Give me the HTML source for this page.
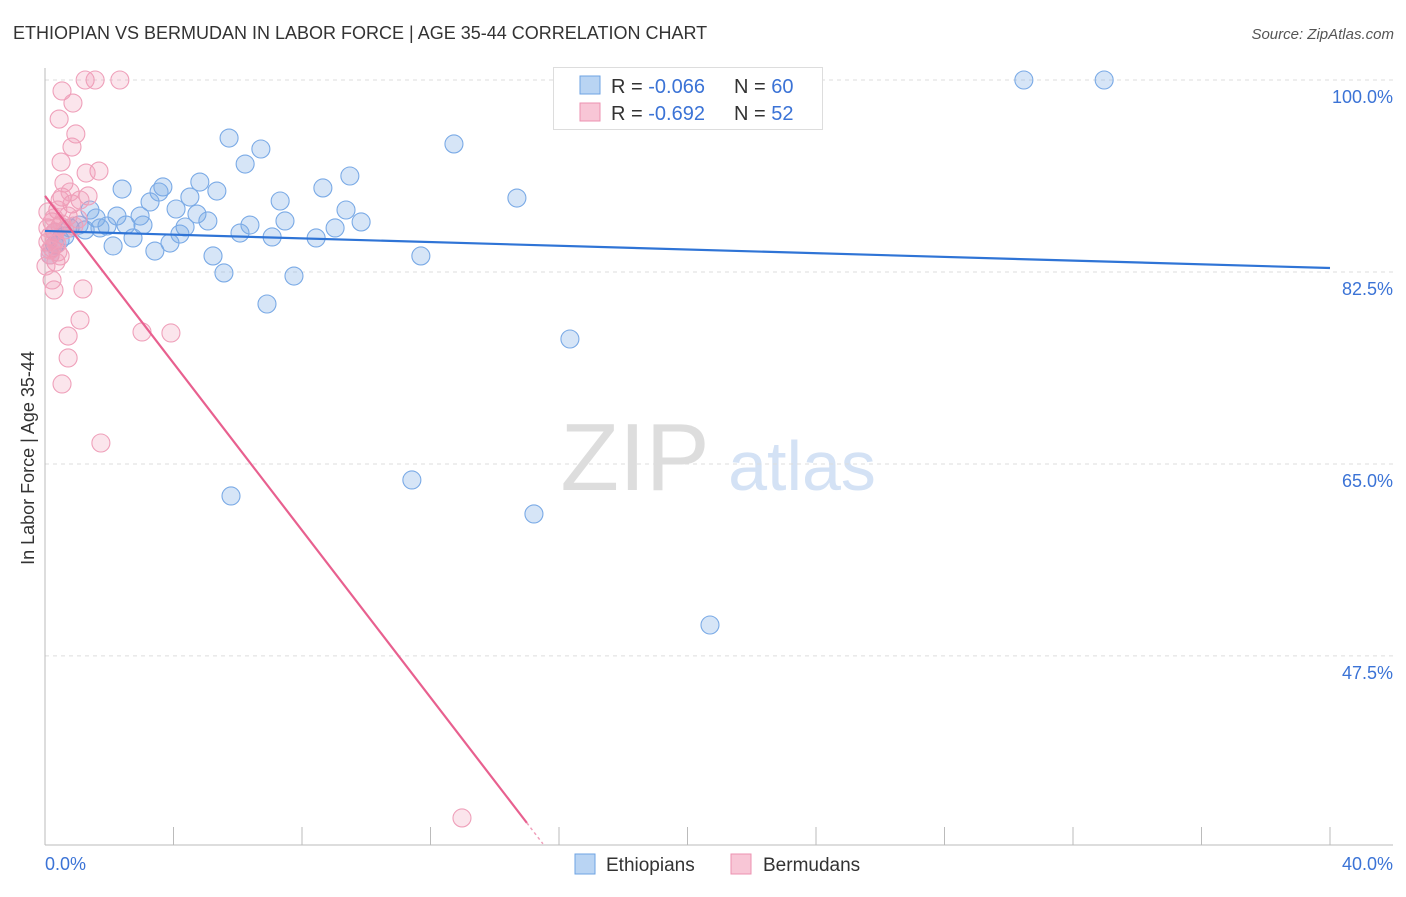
<!DOCTYPE html>
<html><head><meta charset="utf-8"><style>
body{margin:0;background:#fff;font-family:"Liberation Sans",sans-serif;}
svg text{font-family:"Liberation Sans",sans-serif;}
</style></head><body>
<svg id="chart" width="1406" height="892" xmlns="http://www.w3.org/2000/svg">
<text x="13" y="39" font-size="18" fill="#333">ETHIOPIAN VS BERMUDAN IN LABOR FORCE | AGE 35-44 CORRELATION CHART</text>
<text x="1394" y="39" font-size="15" fill="#555" font-style="italic" text-anchor="end">Source: ZipAtlas.com</text>
<g>
<text x="635" y="490" font-size="96" fill="#ddd" font-family="Liberation Serif" text-anchor="middle">ZIP</text>
<text x="802" y="490" font-size="70" fill="#d4e2f5" text-anchor="middle">atlas</text>
</g>
<g id="grid"></g>
<g id="axes"></g>
<g id="marks"></g>
<g>
<rect x="553.5" y="67.5" width="269" height="62" fill="#fff" stroke="#ddd"/>
<rect x="580" y="76" width="20" height="18" fill="#b9d4f3" stroke="#6ea3e3"/>
<rect x="580" y="103" width="20" height="18" fill="#f8c6d6" stroke="#ec92b0"/>
<text x="611" y="93" font-size="20" fill="#333">R = <tspan fill="#3b73d6">-0.066</tspan><tspan x="734">N = </tspan><tspan fill="#3b73d6">60</tspan></text>
<text x="611" y="120" font-size="20" fill="#333">R = <tspan fill="#3b73d6"> -0.692</tspan><tspan x="734">N = </tspan><tspan fill="#3b73d6"> 52</tspan></text>
</g>
<g>
<rect x="575" y="854" width="20" height="20" fill="#b9d4f3" stroke="#6ea3e3"/>
<text x="606" y="871" font-size="19" fill="#333">Ethiopians</text>
<rect x="731" y="854" width="20" height="20" fill="#f8c6d6" stroke="#ec92b0"/>
<text x="763" y="871" font-size="19" fill="#333">Bermudans</text>
</g>
<text transform="translate(34,458) rotate(-90)" font-size="18" fill="#333" text-anchor="middle">In Labor Force | Age 35-44</text>
</svg>
<script>
const yTicks=[100,82.5,65,47.5];
const yTickLabels=["100.0%","82.5%","65.0%","47.5%"];
const xEndLabels=["0.0%","40.0%"];
const blueX=[30.47,32.97,12.73,5.73,6.72,6.23,9.49,8.65,4.82,3.67,3.55,2.40,5.35,4.51,3.27,7.32,14.69,4.08,1.40,9.37,4.73,2.96,2.24,1.59,5.07,9.84,7.47,6.38,2.52,3.05,1.93,1.06,4.36,4.20,6.07,9.03,2.74,7.07,8.44,0.62,2.12,0.47,3.89,3.42,5.23,11.70,5.57,7.75,6.91,16.34,11.42,5.79,15.22,20.70,0.31,0.16,0.78,1.25,1.71,0.31];
const blueY=[100,100,94.17,94.71,93.71,92.34,91.25,90.16,90.70,90.25,89.79,90.06,89.88,89.33,88.88,88.97,89.24,88.24,88.15,88.15,87.78,87.60,87.60,87.42,87.15,87.06,87.15,86.78,86.78,86.78,86.69,86.78,86.60,85.96,86.05,86.51,85.60,85.69,85.60,85.78,84.87,85.41,85.14,84.41,83.96,83.96,82.41,82.13,79.58,76.39,63.54,62.08,60.44,50.32,84.96,84.05,86.51,86.33,86.51,86.14];
const pinkX=[1.25,1.56,2.33,0.53,0.87,0.44,0.96,0.84,0.50,1.68,1.28,0.59,0.53,1.34,1.09,0.84,0.40,0.72,1.03,0.22,0.47,0.31,0.16,0.09,0.22,0.40,0.34,0.22,0.28,1.18,1.09,3.02,3.92,0.72,0.72,0.53,1.74,12.98,0.09,0.31,0.53,0.16,0.03,0.47,0.78,0.09,0.37,0.62,0.90,0.28,0.16,0.47];
const pinkY=[100,100,100,99.0,97.9,96.44,95.08,93.89,92.52,91.70,91.52,90.61,89.33,89.43,89.06,88.70,88.15,87.60,87.33,87.06,86.69,86.14,85.78,85.23,84.69,84.32,83.41,81.77,80.86,80.95,78.12,77.03,76.94,76.66,74.66,72.29,66.91,32.73,86.51,85.41,86.87,84.05,83.04,89.06,89.79,87.97,85.05,86.33,86.69,87.42,84.50,83.96];
const blueTrend=[86.24,-0.0845];
const pinkTrend=[89.43,-3.81];
const pinkTrendEnd=15.0;

const X0=45,X1=1330,XMIN=0,XMAX=40;
const Y100=80,PXPER=10.97;
const sx=v=>X0+(v-XMIN)/(XMAX-XMIN)*(X1-X0);
const sy=v=>Y100+(100-v)*PXPER;
const NS="http://www.w3.org/2000/svg";
function mk(tag,attrs,parent){const e=document.createElementNS(NS,tag);for(const k in attrs)e.setAttribute(k,attrs[k]);parent.appendChild(e);return e;}
const grid=document.getElementById('grid'),axes=document.getElementById('axes'),marks=document.getElementById('marks');
yTicks.forEach((t,i)=>{
  const l=mk('line',{x1:45,x2:1393,y1:sy(t),y2:sy(t),stroke:'#ddd','stroke-dasharray':'4,4'},grid);
  
  
  const tx=mk('text',{x:1393,y:sy(t)+23,'font-size':18,fill:'#3b73d6','text-anchor':'end'},grid);
  tx.textContent=yTickLabels[i];
  
  
});
mk('line',{x1:45,x2:45,y1:68,y2:845,stroke:'#bbb'},axes);
mk('line',{x1:45,x2:1393,y1:845,y2:845,stroke:'#bbb'},axes);
for(let k=0;k<=10;k++){const x=sx(k*4);mk('line',{x1:x,x2:x,y1:827,y2:845,stroke:'#bbb'},axes);}
const xl0=mk('text',{x:45,y:870,'font-size':18,fill:'#3b73d6'},axes);xl0.textContent=xEndLabels[0];


const xl1=mk('text',{x:1393,y:870,'font-size':18,fill:'#3b73d6','text-anchor':'end'},axes);xl1.textContent=xEndLabels[1];


blueX.forEach((v,i)=>{
  const c=mk('circle',{cx:sx(v),cy:sy(blueY[i]),r:9,fill:'rgba(120,170,230,0.3)',stroke:'#7aaae6','stroke-width':1.1},marks);
  
  
});
pinkX.forEach((v,i)=>{
  const c=mk('circle',{cx:sx(v),cy:sy(pinkY[i]),r:9,fill:'rgba(240,150,180,0.25)',stroke:'#efa0ba','stroke-width':1.1},marks);
  
  
});
const bl=mk('line',{x1:sx(0),y1:sy(blueTrend[0]),x2:sx(40),y2:sy(blueTrend[0]+blueTrend[1]*40),stroke:'#2f74d6','stroke-width':2.2},marks);


const pl=mk('line',{x1:sx(0),y1:sy(pinkTrend[0]),x2:sx(pinkTrendEnd),y2:sy(pinkTrend[0]+pinkTrend[1]*pinkTrendEnd),stroke:'#e8608f','stroke-width':2.2},marks);


const pd=mk('line',{x1:sx(pinkTrendEnd),y1:sy(pinkTrend[0]+pinkTrend[1]*pinkTrendEnd),x2:sx(pinkTrendEnd+0.5),y2:sy(pinkTrend[0]+pinkTrend[1]*(pinkTrendEnd+0.5)),stroke:'#f0a0bb','stroke-width':1.5,'stroke-dasharray':'3,3'},marks);


</script>
</body></html>
